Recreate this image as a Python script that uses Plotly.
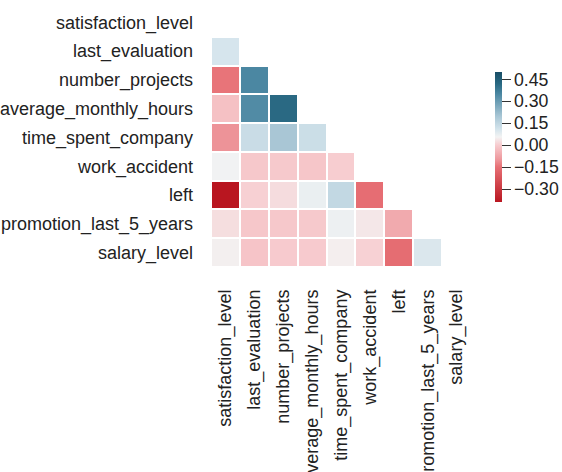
import numpy as np
import plotly.graph_objects as go

labels = ["satisfaction_level", "last_evaluation", "number_projects",
          "average_monthly_hours", "time_spent_company", "work_accident",
          "left", "promotion_last_5_years", "salary_level"]

# lower-triangle correlation values (row i, columns 0..i-1)
row_last_evaluation = [0.105]
row_number_projects = [-0.143, 0.349]
row_average_monthly_hours = [-0.020, 0.340, 0.417]
row_time_spent_company = [-0.101, 0.132, 0.197, 0.128]
row_work_accident = [0.059, -0.007, -0.005, -0.010, 0.002]
row_left = [-0.388, 0.007, 0.024, 0.071, 0.145, -0.155]
row_promotion_last_5_years = [0.026, -0.009, -0.006, -0.004, 0.067, 0.039, -0.062]
row_salary_level = [0.050, -0.013, -0.002, -0.002, 0.049, 0.009, -0.157, 0.098]

colorbar_ticks = [-0.30, -0.15, 0.0, 0.15, 0.30, 0.45]

rows = [[], row_last_evaluation, row_number_projects, row_average_monthly_hours,
        row_time_spent_company, row_work_accident, row_left,
        row_promotion_last_5_years, row_salary_level]

n = len(labels)
z = []
for i in range(n):
    z.append([rows[i][j] if j < i else None for j in range(n)])

colorscale = [
    [0.0, "rgb(185,22,32)"],
    [0.27, "rgb(231,112,117)"],
    [0.33, "rgb(238,152,157)"],
    [0.44, "rgb(247,205,208)"],
    [0.5, "rgb(243,243,243)"],
    [0.56, "rgb(212,228,236)"],
    [0.66, "rgb(168,198,213)"],
    [0.83, "rgb(75,135,162)"],
    [0.91, "rgb(40,104,130)"],
    [1.0, "rgb(25,78,102)"],
]

W, H = 562, 472
L, R, T, B = 211, 91, 8, 205
pw, ph = W - L - R, H - T - B
FS = 18

fig = go.Figure(go.Heatmap(
    z=z, x=labels, y=labels,
    zmin=-0.388, zmax=0.5,
    colorscale=colorscale,
    xgap=2, ygap=2,
    hoverongaps=False,
    colorbar=dict(
        thickness=7,
        len=130, lenmode="pixels",
        x=(495 - L) / pw, xanchor="left", xpad=0,
        y=(H - B - 137) / ph, yanchor="middle", ypad=0,
        outlinewidth=0,
        tickvals=colorbar_ticks,
        tickformat=".2f",
        ticks="outside", ticklen=9, tickwidth=1.3, tickcolor="#333",
        tickfont=dict(family="Liberation Sans, Arial", size=17.7, color="#222"),
    ),
))

fig.update_layout(
    width=W, height=H,
    margin=dict(l=L, r=R, t=T, b=B, autoexpand=False),
    paper_bgcolor="white", plot_bgcolor="white",
    font=dict(family="Liberation Sans, Arial", size=FS, color="#222"),
)
fig.update_xaxes(tickangle=-90, showgrid=False, zeroline=False, showline=False,
                 automargin=False, ticklabelstandoff=18, tickfont=dict(size=FS))
fig.update_yaxes(autorange="reversed", showgrid=False, zeroline=False, showline=False,
                 automargin=False, ticklabelstandoff=17, tickfont=dict(size=FS))

fig.write_html("out.html",
               config={"displayModeBar": False},
               post_script="document.body.style.margin='0';document.body.style.overflow='hidden';")
